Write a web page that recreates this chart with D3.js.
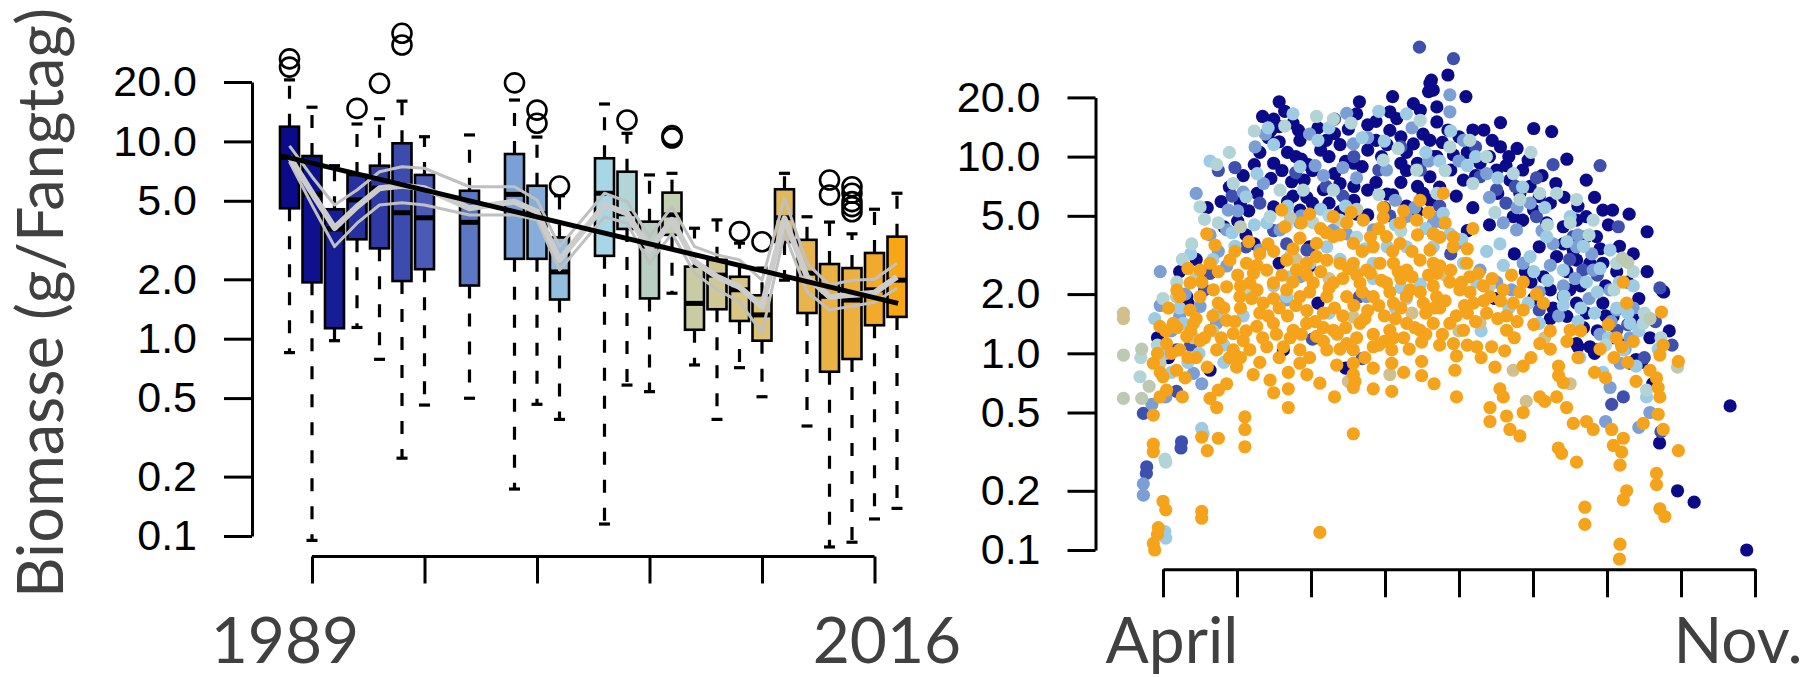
<!doctype html>
<html>
<head>
<meta charset="utf-8">
<title>Biomasse</title>
<script src="https://d3js.org/d3.v7.min.js"></script>
<style>
  body { margin: 0; background: #fff; }
  svg { display: block; }
  .big { font-family: Lato, 'Open Sans', sans-serif; fill: #404040; }
</style>
</head>
<body>
<svg id="chart" width="1810" height="677"></svg>
<script>
// ---------- left panel: yearly boxplots ----------
const boxYears  = [1989,1990,1991,1992,1993,1994,1995,1997,1999,2000,2001,2003,2004,2005,2006,2007,2008,2009,2010,2011,2012,2013,2014,2015,2016];
const boxLow    = [0.85,0.095,0.977,1.14,0.786,0.248,0.461,0.499,0.173,0.465,0.39,0.115,0.582,0.539,1.70,0.736,0.39,0.713,0.508,1.98,0.361,0.088,0.093,0.122,0.138];
const boxQ1     = [4.58,1.93,1.13,3.19,2.87,1.96,2.25,1.86,2.54,2.54,1.58,2.63,3.6,1.60,3.36,1.11,1.41,1.23,0.977,3.09,1.35,0.68,0.789,1.17,1.29];
const boxMedian = [8.3,5.4,3.6,5.05,5.8,4.35,4.10,3.89,5.39,4.3,2.18,5.46,4.3,2.95,4.24,1.51,2.10,1.77,1.32,4.1,2.15,1.64,1.57,1.77,1.98];
const boxQ3     = [11.87,8.43,4.53,6.76,7.53,9.78,6.76,5.62,8.63,5.96,3.26,8.21,7.02,3.92,5.50,2.32,2.51,2.06,1.66,5.72,3.17,2.39,2.28,2.72,3.29];
const boxHigh   = [20.5,14.9,7.53,12.25,13.03,16.0,10.56,10.78,16.2,10.52,5.3,15.47,10.99,6.76,6.89,3.63,4.00,3.05,2.28,6.89,4.15,3.9,3.4,4.53,5.46];
const outlierYears  = [1989,1989,1992,1993,1994,1994,1999,2000,2000,2001,2004,2006,2006,2009,2010,2013,2013,2014,2014,2014,2014,2014];
const outlierValues = [26.2,23.8,14.7,19.7,35.3,30.8,19.8,14.4,12.35,5.94,12.84,10.4,10.7,3.49,3.10,6.37,5.35,5.89,5.46,4.95,4.67,4.40];
const lineUpper = [9.48,6.62,4.76,5.67,7.02,7.44,7.31,5.89,5.89,5.05,2.93,5.46,4.95,3.29,4.67,2.93,2.66,2.51,1.98,5.15,2.41,1.87,1.98,2.0,2.41];
const lineMid   = [8.34,5.48,3.64,4.67,5.79,5.96,5.79,4.58,4.95,4.40,2.51,4.76,4.32,2.82,4.00,2.46,2.06,1.83,1.45,4.07,2.06,1.63,1.67,1.71,2.06];
const lineLower = [7.89,4.76,2.93,3.85,4.76,4.89,4.76,4.24,4.24,4.00,2.23,4.15,3.85,2.41,3.42,2.15,1.77,1.54,1.07,3.42,1.73,1.40,1.46,1.53,1.80];
const trendYears  = [1988.65, 2016.05];
const trendValues = [8.45, 1.51];
const yearTicks = [1990,1995,2000,2005,2010,2015];

// shared y ticks
const yTicks = [0.1,0.2,0.5,1,2,5,10,20];
const yTickLabels = ["0.1","0.2","0.5","1.0","2.0","5.0","10.0","20.0"];

// ---------- right panel: single catches, day since 1 April vs biomass ----------
const dayTicks = [0,26.75,53.5,80.25,107,133.75,160.5,187.25,214];
const navyPoints = [[42,19],[40,15.5],[42,14.2],[47,14.8],[49,13.6],[39,13.6],[42,11.9],[49.5,12.1],[48,10],[52.5,9.1],[40,9.25],[33,9.1],[39,7.75],[34,6.5],[21,5.9],[16,5.5],[27,4.7],[30,4],[40,5.55],[45,5.9],[49.5,5.35],[54,5.8],[60,5.8],[64,5.25],[69,6],[74,5.05],[83,6.4],[88,5.6],[92,5.25],[96.5,6],[46.5,7.45],[51,7.6],[54,8.5],[62,8.2],[64,7.3],[69,7.05],[74,6.75],[77,7.4],[81,6.45],[86,7.4],[92,7.05],[96.5,7.9],[59,12.1],[62,13.1],[60,10],[66,9.45],[69,9.25],[72,8.9],[74,10.8],[77,12.1],[82,13.6],[86,12.6],[90.5,11.6],[96.5,12.1],[98,10],[86,9.25],[92,9.25],[71,19],[83,20.2],[97,24.5],[96,21.4],[74,14.5],[77,15.1],[82,16.9],[84.5,15.6],[90.5,18.6],[93,17.2],[53,3.48],[33,3.6],[53,2.78],[42,2.87],[8.6,1.94],[17,0.82],[55.5,1.2],[43.5,1.04],[66,0.84],[103,26],[109.5,20.2],[122,14.9],[134,13.9],[140.5,13.4],[146,9.7],[153,7.6],[159,5.35],[162.5,5.35],[168.5,5.1],[175,4.15],[181,2.05],[205,0.54],[186,0.2],[192,0.175],[211,0.1],[96.5,23.6],[97.7,21.8],[99,17.9],[103,13.65],[107,12.6],[112,13.65],[116,13.65],[119,12.1],[122,11.2],[125,10],[99,10],[104,8.55],[108.6,7.6],[114.6,9.25],[120.6,8.55],[125.4,7.6],[130,8.55],[132.7,7.05],[136,6.25],[140,5.8],[129,6.5],[126.6,4.95],[130,4.75],[134,5.35],[138.7,4.6],[144.7,4.4],[149.5,4.75],[153,4.95],[144.7,3.6],[148.3,3.35],[153,3.92],[156.7,3.92],[159,2.87],[154.3,2.87],[149.5,2.98],[142.3,3.1],[136,3.48],[137.5,2.45],[144.7,1.94],[149.5,1.8],[153,1.6],[159,1.8],[162.7,1.54],[154.3,1.08],[156.7,1.04],[149.5,1.12],[171,0.93],[169,0.89],[180.5,2.08],[146,1.54],[140,1.5],[179.5,0.35],[156,1.0],[150,1.08],[9,1.8],[173,0.9],[56,1.8],
  [36,16],[44,17],[38,12.5],[45,10.5],[35,10.5],[29,8],[24,7],[31,5.3],[43,8.5],[50,9.7],[57,10.8],[56,14],[64,11.5],[67,13.8],[70,16.5],[79,10],[81,11.5],[88,10.5],[94,13],[99,15],[101,11.8],[105,10.2],[110,10.5],[113,8],[118,10],[121,6.5],[124,9],[128,11],[132,9.6],[137,8],[142,7.3],[145,6.2],[150,5.6],[156,6.2],[161,4.5],[165,3.5],[170,3.2],[158,3.4],[164,2.6],[168,2.3],[172,1.9],[175,2.6],[160,2.2],[151,2.2],[146,2.6],[140,2.1],[133,2.3],[127,3.2],[118,4.5],[112,5.5],[106,6.3],[100,7],[94,6.5],[88,8.5],[80,5.5],[70,5.1],[58,6.8],[52,6.2],[47,6.3],[28,5.8],[22,4.4],[12,3.0],[6,2.6],[-2,1.2],[2,0.95],[157,1.3],[166,1.1],[176,1.2],[170,1.5],[183,1.3],[177,0.7],[120,1.9],[110,4.2],
  [134,1.9],[141,1.7],[147,2.1],[152,1.35],[160,1.55],[163,1.2],[131,2.6]];
const bluePoints = [[92.7,36],[105,31.5],[141,9.1],[158,9.0],[164.6,4.4],[179.6,2.15],[120.6,6.8],[114.6,7.9],[127.4,7.05],[135,4.95],[148.3,3.92],[151.8,2.65],[136,1.66],[164,1.31],[166.4,0.6],[162.2,0.55],[6.7,0.355],[-5.9,0.265],[-7.1,0.495],[4.9,0.64],[4.9,1.04],[17,2.55],[35,5.8],[44.7,3.6],[52,3.35],[59,7.05],[69,10],[78,8.55],[86,11.2],[93,8.55],[30,3.48],[54,1.18],[72,0.94],[71,1.94],[-6,0.245],[6.5,0.33],[180,0.4],[178,1.45],[20,8.5],[25,6.3],[62,15.5],[104,3.2],
  [26,8.8],[48,8.3],[65,6.3],[82,5],[100,5.6],[113,11.2],[124,5.8],[135,7.8],[147,3],[157,2.5],[168,1.4],[174,0.95],[184,1.1],[10,1.1],[15,2.1],[40,4.2]];
const steelPoints = [[-7.1,0.217],[-7.1,0.19],[-1,2.6],[-1,1.75],[6,1.55],[11,0.79],[17,4],[23,4.24],[23.6,5.35],[29,6.6],[33.3,11.2],[36.3,7.3],[42.3,4.24],[49.5,4.6],[61.6,4.24],[66.4,16.6],[66.4,4.05],[76,4.24],[68.8,11.6],[80.8,8.55],[88,4.95],[97.7,4.6],[35,3.35],[23,2.78],[13.4,1.73],[44.7,1.87],[73.6,1.94],[49.5,2.45],[19.4,1.42],[103.7,20.6],[103.7,16.9],[108.6,12.1],[117,8.2],[123,4.6],[127.8,4.24],[132.7,5.8],[141,3.6],[149.5,3.48],[155.5,2.65],[161.6,2.1],[164,1.66],[168.8,1.2],[165.2,0.89],[161.6,0.67],[176,0.5],[100,4.95],[101.3,4.6],[106,3.6],[114.6,2.65],[120.6,2.3],[130.2,2.87],[144.7,2.2],[1,0.6],[14,0.7],[-4,0.55],[12,6.5],[55,9],[90,14],[160,0.45],[172,0.42],
  [37,13],[53,13],[58,8],[65,8.8],[74,12.5],[84,6],[91,5.5],[96,9.5],[107,9.5],[118,6.2],[128,5.5],[137,4.2],[150,4],[155,3.2],[140,2.8],[126,2.1],[170,1.7],[158,1.25],[20,3.3],[8,2],[27,5.3],[50,5],[70,7.8],[3,1.3],
  [136,2.05],[143,1.55],[149,2.4],[154,1.9],[162,1.45],[167,1.05]];
const lightBluePoints = [[0.7,0.124],[14,0.415],[14.5,0.39],[1,0.115],[19.4,1.6],[29,1.55],[37.5,4.6],[44.7,1.94],[45.9,3.1],[53.1,2.87],[59.2,3.48],[64,3],[56,12.1],[49.5,8.9],[34,8.2],[30,6.25],[81,3.48],[88,3.48],[69,2.65],[76,2.87],[86,2.15],[93,2.25],[97.7,3.48],[31.4,2],[7.3,1.42],[101.3,5.15],[103.7,4.05],[108.6,2.87],[113.4,2.3],[121.8,3.6],[132.7,3.1],[138.7,3.92],[144.7,2.65],[147.2,4.95],[153,2.3],[161.6,3.35],[164,1.7],[168.8,1.42],[159,0.8],[150.7,0.95],[166.4,1.04],[171,0.86],[174.8,0.6],[144.7,1.76],[136,1.42],[3,0.8],[9,0.9],[22,1.1],[26,3.5],[40,2.2],[60,1.6],[84,1.7],[115,1.3],[125,1.7],[100,9.5],[110,9],[80,12],[88,16.5],[66,5.6],[17,9.5],[10,3.2],[40,11.5],[170,2.2],[176,1.5],
  [38,14],[47,16.5],[60,14],[72,12.5],[78,17],[95,10.5],[104,13.5],[113,10],[121,7.8],[130,7],[138,5.5],[146,3.7],[152,3.5],[158,2.7],[165,2.3],[172,1.3],[179,1.05],[156,1.6],[150,1.45],[134,2.6],[123,2.8],[117,3.3],[108,3.8],[95,4.3],[84,4.5],[73,3.4],[57,5.4],[45,5.6],[33,4.5],[25,4.1],[18,3.0],[12,2.4],[6,1.7],[1,1.0],[-3,1.5],[13,1.0],[22,0.9],[46,2.45],[76,2.4],[88,1.9],
  [132,1.8],[139,2.35],[145,1.95],[151,1.7],[157,2.05],[161,1.2],[168,1.6]];
const palePoints = [[19.4,9.1],[55.5,16],[61.6,15.5],[93,15.3],[79.6,9.6],[91.7,8.55],[25.4,7.3],[42.3,6.75],[50.7,6.75],[61.6,6.75],[13.4,5.55],[20,4.6],[38.7,4.95],[44.7,4.45],[54.3,4.6],[64,4.75],[10.4,3.6],[0.7,0.29],[-8.3,0.76],[103.7,11.2],[110.9,12.1],[116.9,10],[126.6,8.2],[136.2,6.5],[142.3,6.5],[149.5,6.05],[147.2,4.6],[155.5,4.75],[164,2.87],[166.4,2.98],[173.6,1.42],[129,6.05],[174.8,0.65],[1,0.28],[-2,1.1],[5,2.3],[30,2.1],[70,3.9],[86,4.2],[99,6.5],[133,10.5],[160,1.1],[174,1.6],
  [24,10.5],[33,13.5],[44,14.3],[68,14.8],[85,11],[102,8.5],[112,7.3],[120,5.2],[139,4.5],[154,4],[163,2.1],[170,2.6],[180,1.2],[15,4.8],[7,3.0],[0,1.9],[-8,0.95],[60,5],[78,6.4]];
const sagePoints = [[-14.3,0.98],[-14.3,0.59],[-7.7,1.05],[-7.7,0.59],[-1.1,0.89],[4.9,1.94],[12,2.4],[28,4.4],[46,4.9],[70,5.4],[100,3.9],[166,3.05],[168,2.9],[176,1.5],[186,0.85],[118,2.2],[18,1.3],[-5,0.68]];
const khakiPoints = [[-14.3,1.6],[-14.3,1.5],[82,0.78],[68.8,1.53],[126.6,0.82],[131.3,0.57],[147.2,0.7],[107,1.3],[114.6,1.43],[67,0.72],[33,1.95],[48,3.0],[60,2.4],[90,1.6],[102,2.5],[138,1.2],[11,1.2]];
const orangePoints = [[-3.5,0.108],[-1.7,0.13],[0,0.177],[-3.5,0.345],[-3.5,0.316],[14,0.157],[16,0.32],[20,0.37],[14,0.375],[29.6,0.475],[29.6,0.41],[29.6,0.335],[45.3,0.53],[45.3,0.66],[45.3,0.8],[38.7,0.73],[68.8,0.39],[56.7,0.123],[56.7,0.705],[82.7,0.64],[82.7,1.04],[93.5,0.77],[93.5,0.91],[93.5,1.14],[76,0.84],[69.4,0.72],[62.8,0.87],[49.5,0.89],[32.6,0.78],[26.6,0.85],[19.4,0.53],[17,0.59],[20,0.65],[1.3,0.65],[-1.1,0.6],[-3.5,0.485],[-3.5,0.89],[0,0.76],[4.9,0.82],
  [-1.1,1.37],[1.3,1.12],[6.1,1.04],[11,1.42],[13.4,1.16],[17,1.31],[23,1.47],[25.4,1.26],[29,1.16],[33.9,1.37],[39.9,1.42],[43.5,1.08],[47.1,1.31],[51.9,1.42],[55.5,1.22],[61.6,1.31],[66.4,1.12],[71.2,1.42],[76,1.08],[82,1.31],[88.1,1.42],[92.9,1.31],[97.7,1.42],
  [15.8,4.05],[18.8,3.55],[24.2,2.98],[17,2.87],[30.2,2.87],[32.7,2.55],[37.5,2.65],[44.7,2.98],[48.3,2.65],[51.9,2.87],[55.5,3.1],[59.2,2.98],[64,2.87],[68.8,2.87],[73.6,2.65],[78.4,2.87],[83.3,2.87],[88.1,2.65],[92.9,2.98],[97.7,2.87],
  [42.9,5.35],[79.6,5.5],[92.9,6],[61.6,4.95],[66.4,4.6],[72.4,4.75],[79.6,4.9],[85.7,4.6],[91.7,4.75],[97.7,4.05],[49.5,3.85],[55.5,3.62],[61.6,3.92],
  [6.1,1.94],[9.8,2.28],[13.4,1.94],[18.2,2.1],[23,2.18],[27.8,1.94],[31.4,2.28],[36.3,1.8],[39.9,2.28],[44.7,2.1],[49.5,1.94],[54.3,2.28],[59.2,1.94],[61.6,2.28],[66.4,1.94],[71.2,2.28],[76,1.94],[80.8,2.28],[83.3,1.8],[89.3,2.1],[94.1,1.8],[97.7,2.2],[80.8,3.92],[85.7,3.62],[76,3.48],[68.8,3.62],
  [13.4,2.65],[9.8,1.66],[3.7,1.42],[8.6,1.22],[19.4,1.04],[25.4,1.04],[31.4,1.04],[37.5,1.08],[49.5,1.04],[59.2,1.04],[68.8,1.04],[68.8,0.89],[68.8,0.78],[68.8,0.67],[82.7,0.89],[83.3,1.2],
  [101.3,6.5],[97.7,4.05],[96.5,3.35],[100.1,2.78],[104.9,3.48],[109.8,2.87],[103.7,2.3],[98.9,1.94],[107.3,2.1],[110.9,2.45],[115.8,2.2],[112.2,1.8],[118.2,1.94],[123,2.1],[126.6,1.8],[130.2,2.3],[135,2],[137.5,1.8],[117,1.6],[124.2,1.55],[130.2,1.66],[103.7,1.42],[108.6,1.31],[105,1.12],[106.1,0.97],[105.5,0.82],[106.1,0.6],[113.4,1.08],[118.8,1.08],[123.5,1.03],[130.2,0.86],[136.2,1.12],[143,0.86],[143,0.77],[144.7,0.71],[142.3,0.6],[145.9,0.53],[148.3,0.44],[153.1,0.45],[155.5,0.41],[121.8,0.66],[123,0.6],[118.2,0.53],[124.2,0.48],[118.2,0.45],[125.4,0.41],[129,0.38],[130.2,0.5],[136.2,0.6],[138,0.57],[142.9,0.33],[144.1,0.31],[149.5,0.28],[162.2,0.41],[162.8,0.34],[166.4,0.37],[165.8,0.315],[165.2,0.27],[167.6,0.2],[166.4,0.18],[152.5,0.165],[152.5,0.135],[165.2,0.107],[165,0.09],[178.4,0.245],[178.4,0.215],[179.6,0.162],[181.4,0.148],[186.3,0.32],[186.3,0.91],[180.2,1.62],[180.8,1.1],[179.6,0.98],[178.4,0.75],[179,0.67],[179.6,0.6],[179,0.49],[180.8,0.41],[173.6,0.44],[166.4,2.3],[167.6,1.8],[165.8,1.08],[163.9,1.2],[124.2,1.31],[147.2,1.31],
  [-3,0.1],[-2,0.12],[1,0.16],[14,0.145],
  [35,1.6],[42,1.7],[58,1.6],[65,1.55],[74,1.65],[86,1.7],[95,1.6],[28,1.7],[20,1.8],[12,1.5],[100,1.7],[110,1.6],[2,1.7],[52,2.5],[70,2.5],[86,2.4],[40,3.3],[57,4.3],[75,3.9],[90,3.3],[100,3.9],[27,2.5],[35,3.2],[46,1.2],[58,1.35],[80,1.55],
  [3,1.0],[5,1.35],[8,0.75],[10,1.3],[12,0.95],[15,1.2],[18,1.55],[21,1.2],[22,1.7],[24,0.95],[26,1.45],[28,2.2],[30,1.3],[32,1.9],[34,2.1],[36,1.2],[38,1.55],[40,1.9],[41,1.25],[43,2.5],[45,1.55],[47,2.3],[48,1.75],[50,1.25],[52,1.65],[53,2.05],[55,1.45],[57,2.6],[58,1.15],[60,2.15],[62,1.7],[63,1.25],[65,2.4],[66,1.35],[67,2.7],[69,1.75],[70,1.2],[72,2.05],[73,1.5],[75,2.55],[76,1.25],[78,1.75],[79,2.35],[80,1.15],[82,2.05],[84,1.5],[85,2.6],[87,1.2],[88,1.95],[90,2.45],[91,1.35],[93,2.05],[95,1.25],[96,2.5],[98,1.7],[99,2.55],[101,1.25],[102,1.85],[104,2.65],[106,1.55],[108,2.3],[109,1.75],[111,2.05],[113,1.45],[114,2.55],[116,1.85],[119,2.4],[121,1.5],[122,1.85],[126,2.5],[128,1.45],[129,2.05],[134,1.4],[140,1.3],[146,1.15],[151,1.3],[158,1.05],[161,1.4],[163,0.95],[168,0.9],[171,0.72],[176,0.82],[170,1.15],[160,0.75],[156,0.8],[150,0.95],[140,1.05],[133,0.95],[127,1.2],[120,0.85],[115,0.95],[110,1.1],[100,1.1],[89,1.05],[78,1.1],[73,0.95],[64,1.05],[53,0.95],[42,0.95],[35,0.9],[28,0.95],[16,0.85],[9,0.95],[1,1.3],[-2,1.0],[-1,0.8],[7,0.6],[23,0.7],[40,0.63],[52,0.78],[62,0.6],[76,0.66],[87,0.8],[98,0.7],
  [20,2.6],[26,3.3],[31,3.7],[38,3.6],[44,4.4],[50,4.6],[53,5.1],[59,4.1],[64,4.0],[68,5.2],[72,3.3],[78,4.3],[83,3.3],[87,5.3],[92,4.0],[96,5.2],[102,4.6],[105,3.9],[110,3.4],[112,4.3],[47,3.4],[34,2.8],[14,2.3],[9,2.7],[5,2.1]];

// ---------- styles ----------
const boxColors = ["#0b0b8a","#0e118e","#171d95","#2630a0","#3039a4","#3d4bae","#4a5ab6","#5c78c4","#79a1d5","#86aeda","#93bedf","#a7d7e7","#b2d5d7","#b9cfc4","#c1d0b1","#c9cca2","#d0c894","#d8c581","#dcc274","#e1b95a","#e6b54e","#eab245","#edaf3d","#f2aa2a","#f8a614"];
const scatterGroups = [
  {pts: navyPoints, color: "#0b0b8a"},
  {pts: bluePoints, color: "#3f4fae"},
  {pts: steelPoints, color: "#7b9fd4"},
  {pts: lightBluePoints, color: "#9ccbe3"},
  {pts: palePoints, color: "#b3d4d7"},
  {pts: sagePoints, color: "#bdc9b2"},
  {pts: khakiPoints, color: "#d1c08d"},
  {pts: orangePoints, color: "#f5a31b"}
];

const svg = d3.select("#chart");

function styleAxis(g) {
  g.select(".domain").attr("stroke-width", 3);
  g.selectAll(".tick line").attr("stroke-width", 3);
  g.selectAll(".tick text")
    .attr("font-family", "'Liberation Sans', Arial, Helvetica, sans-serif")
    .attr("font-size", 43)
    .attr("fill", "#000");
}

// ===== left panel =====
const xL = d3.scaleLinear().domain([1989, 2016]).range([289.5, 897]);
const yL = d3.scaleLog().domain([0.1, 20]).range([536, 82]);

svg.append("g")
  .attr("transform", "translate(252,0)")
  .call(d3.axisLeft(yL).tickValues(yTicks).tickFormat((d, i) => yTickLabels[i])
    .tickSize(28).tickSizeOuter(0).tickPadding(27))
  .call(styleAxis);

const xAxisL = svg.append("g")
  .attr("transform", "translate(0,556.5)")
  .call(d3.axisBottom(xL).tickValues(yearTicks).tickFormat("").tickSize(27).tickSizeOuter(0))
  .call(styleAxis);
xAxisL.select(".domain").attr("d", `M${xL(yearTicks[0])},0H${xL(yearTicks[yearTicks.length - 1])}`);

const boxW = 19, capW = 11;
const boxes = svg.append("g");
boxYears.forEach((yr, i) => {
  const x = xL(yr);
  const g = boxes.append("g");
  // whiskers
  g.append("line").attr("x1", x).attr("x2", x).attr("y1", yL(boxQ3[i])).attr("y2", yL(boxHigh[i]))
    .attr("stroke", "#000").attr("stroke-width", 3.2).attr("stroke-dasharray", "13,15");
  g.append("line").attr("x1", x).attr("x2", x).attr("y1", yL(boxQ1[i])).attr("y2", yL(boxLow[i]))
    .attr("stroke", "#000").attr("stroke-width", 3.2).attr("stroke-dasharray", "13,15");
  // staples
  [boxHigh[i], boxLow[i]].forEach(v => {
    g.append("line").attr("x1", x - capW / 2).attr("x2", x + capW / 2).attr("y1", yL(v)).attr("y2", yL(v))
      .attr("stroke", "#000").attr("stroke-width", 3.2);
  });
  // box
  g.append("rect").attr("x", x - boxW / 2).attr("width", boxW)
    .attr("y", yL(boxQ3[i])).attr("height", yL(boxQ1[i]) - yL(boxQ3[i]))
    .attr("fill", boxColors[i]).attr("stroke", "#000").attr("stroke-width", 2.6);
  // median
  g.append("line").attr("x1", x - boxW / 2).attr("x2", x + boxW / 2)
    .attr("y1", yL(boxMedian[i])).attr("y2", yL(boxMedian[i]))
    .attr("stroke", "#000").attr("stroke-width", 5);
});

svg.append("g").selectAll("circle")
  .data(outlierYears.map((yr, i) => [yr, outlierValues[i]]))
  .join("circle")
  .attr("cx", d => xL(d[0])).attr("cy", d => yL(d[1])).attr("r", 9.5)
  .attr("fill", "none").attr("stroke", "#000").attr("stroke-width", 2.6);

const lineGen = d3.line().x(d => xL(d[0])).y(d => yL(d[1]));
[[lineUpper, 3, "#c0c0c0"], [lineLower, 3, "#c0c0c0"], [lineMid, 6, "#cccccc"]].forEach(([vals, w, c]) => {
  svg.append("path")
    .attr("d", lineGen(boxYears.map((yr, i) => [yr, vals[i]])))
    .attr("fill", "none").attr("stroke", c).attr("stroke-width", w).attr("stroke-linejoin", "round");
});
svg.append("path")
  .attr("d", lineGen(trendYears.map((yr, i) => [yr, trendValues[i]])))
  .attr("fill", "none").attr("stroke", "#000").attr("stroke-width", 5);

// ===== right panel =====
const xR = d3.scaleLinear().domain([0, 214]).range([1163, 1755]);
const yR = d3.scaleLog().domain([0.1, 20]).range([550, 97.4]);

svg.append("g")
  .attr("transform", "translate(1095.5,0)")
  .call(d3.axisLeft(yR).tickValues(yTicks).tickFormat((d, i) => yTickLabels[i])
    .tickSize(28).tickSizeOuter(0).tickPadding(27))
  .call(styleAxis);

svg.append("g")
  .attr("transform", "translate(0,569.3)")
  .call(d3.axisBottom(xR).tickValues(dayTicks).tickFormat("").tickSize(28).tickSizeOuter(0))
  .call(styleAxis);

const dots = svg.append("g");
scatterGroups.forEach(grp => {
  dots.append("g").selectAll("circle")
    .data(grp.pts)
    .join("circle")
    .attr("cx", d => xR(d[0])).attr("cy", d => yR(d[1])).attr("r", 6.6)
    .attr("fill", grp.color);
});

// ===== big labels =====
svg.append("text").attr("class", "big").attr("font-size", 63)
  .attr("text-anchor", "middle")
  .attr("transform", "translate(63,303) rotate(-90)")
  .text("Biomasse (g/Fangtag)");
svg.append("text").attr("class", "big").attr("font-size", 64).attr("text-anchor", "middle")
  .attr("x", 285).attr("y", 663).text("1989");
svg.append("text").attr("class", "big").attr("font-size", 64).attr("text-anchor", "middle")
  .attr("x", 887).attr("y", 663).text("2016");
svg.append("text").attr("class", "big").attr("font-size", 64).attr("text-anchor", "middle")
  .attr("x", 1172).attr("y", 663).text("April");
svg.append("text").attr("class", "big").attr("font-size", 64).attr("text-anchor", "middle")
  .attr("x", 1738).attr("y", 663).text("Nov.");
</script>
</body>
</html>
